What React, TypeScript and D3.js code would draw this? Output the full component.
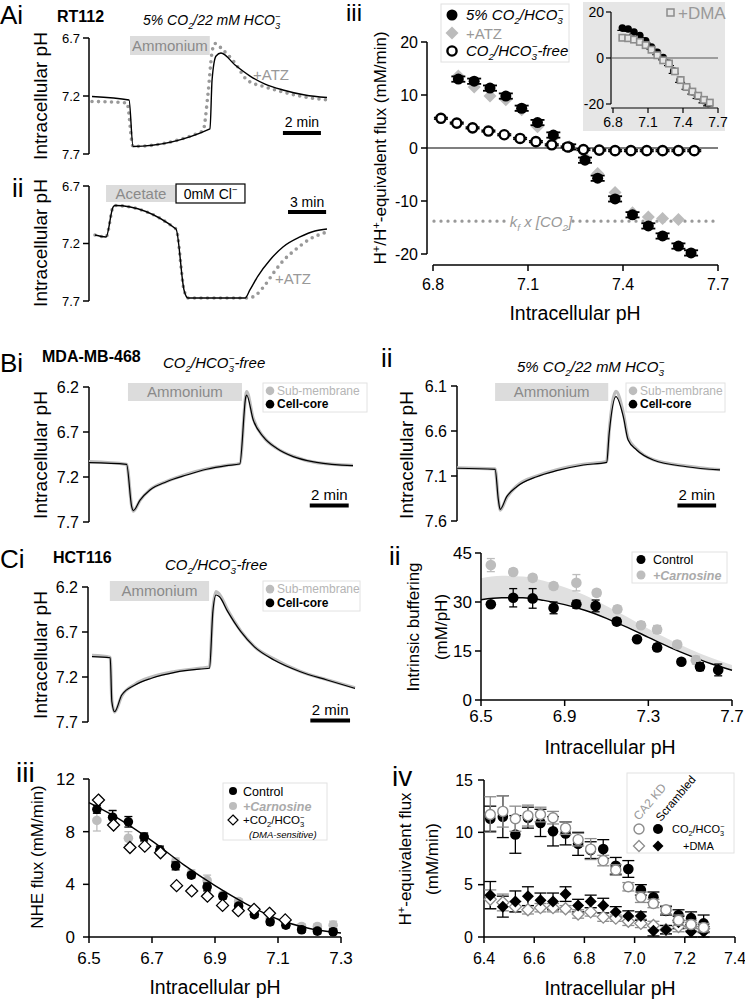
import React from 'react';
import * as d3 from 'd3';

const FONT = '"Liberation Sans", Arial, Helvetica, sans-serif';
const LIGHT = '#bdbdbd';
const MID = '#999999';
const BAR = '#dcdcdc';

// ---------- Ai : RT112, ammonium prepulse (time in min, pHi) ----------
const aiNH4 = [2.0, 6.2];
const aiTime = [0, 1.95, 2.16, 6.21, 6.32, 6.53, 6.79, 7.53, 8.32, 9.11, 10.05, 11.21, 12.37];
const aiCtrl = [7.204, 7.234, 7.635, 7.484, 7.062, 6.855, 6.829, 6.933, 7.028, 7.097, 7.148, 7.191, 7.213];
const aiAtzTime = [0, 1.84, 2.16, 5.84, 6.1, 6.32, 6.47, 6.89, 7.53, 8.16, 9.11, 10.05, 11.21, 12.37];
const aiAtz = [7.247, 7.26, 7.635, 7.502, 7.191, 6.821, 6.747, 6.803, 6.916, 7.062, 7.122, 7.166, 7.209, 7.234];

// ---------- Aii : acetate / 0 Cl- ----------
const aiiAcetate = [0.87, 6.38];
const aiiZeroCl = [6.38, 11.81];
const aiiTime = [0, 0.87, 1.42, 1.57, 6.38, 7.01, 7.32, 11.81, 12.2, 12.83, 13.78, 14.8, 16.14, 17.32, 18.27];
const aiiCtrl = [7.126, 7.143, 6.883, 6.87, 7.074, 7.604, 7.674, 7.674, 7.604, 7.483, 7.343, 7.23, 7.143, 7.091, 7.074];
const aiiAtzTime = [0, 0.87, 1.42, 1.57, 6.38, 7.01, 7.32, 12.05, 12.68, 13.39, 14.17, 14.8, 15.75, 16.93, 18.27];
const aiiAtz = [7.126, 7.143, 6.883, 6.87, 7.074, 7.604, 7.674, 7.674, 7.648, 7.561, 7.439, 7.352, 7.257, 7.161, 7.1];

// ---------- Aiii : flux vs pHi ----------
const aiiiPh = [6.88, 6.93, 6.98, 7.03, 7.08, 7.13, 7.18, 7.23, 7.28, 7.32, 7.375, 7.43, 7.48, 7.525, 7.575, 7.615];
const aiiiCo2 = [13.0, 12.6, 11.3, 9.8, 7.5, 4.8, 2.45, 0.2, -2.3, -5.7, -9.6, -12.6, -14.7, -16.6, -18.5, -19.8];
const aiiiAtzPh = [6.88, 6.93, 6.98, 7.03, 7.08, 7.13, 7.18, 7.23, 7.28, 7.32, 7.375, 7.43, 7.48, 7.525, 7.575];
const aiiiAtz = [13.6, 11.5, 9.8, 9.1, 7.2, 4.0, 2.0, 0.3, -1.8, -4.8, -8.4, -12.2, -13.0, -13.3, -13.5];
const aiiiFreePh = [6.825, 6.875, 6.925, 6.975, 7.025, 7.075, 7.125, 7.175, 7.225, 7.275, 7.325, 7.375, 7.425, 7.475, 7.525, 7.575, 7.625];
const aiiiFree = [5.6, 4.7, 3.8, 3.2, 2.5, 1.8, 1.2, 0.6, 0.2, -0.3, -0.4, -0.5, -0.5, -0.5, -0.5, -0.5, -0.5];
const kfCo2 = -13.8;
const insetDmaPh = [6.88, 6.93, 6.98, 7.03, 7.08, 7.13, 7.18, 7.23, 7.28, 7.33, 7.38, 7.43, 7.48, 7.53, 7.58, 7.63];
const insetDma = [8.8, 8.6, 8.0, 7.0, 5.6, 3.6, 1.2, -1.0, -2.4, -5.8, -9.6, -12.6, -14.6, -16.4, -18.2, -19.4];

// ---------- Bi / Bii / Ci : sub-membrane vs cell-core traces ----------
const biNH4 = [2.0, 7.85];
const biTime = [0, 1.93, 2.19, 2.27, 2.62, 3.13, 3.98, 5.01, 6.04, 7.06, 7.74, 8.05, 8.09, 8.43, 8.94, 9.63, 10.48, 11.68, 13.55];
const biCore = [7.041, 7.059, 7.53, 7.574, 7.456, 7.344, 7.252, 7.178, 7.114, 7.074, 7.056, 6.308, 6.289, 6.567, 6.752, 6.881, 6.974, 7.037, 7.074];
const biSub = [7.03, 7.06, 7.52, 7.58, 7.46, 7.34, 7.25, 7.17, 7.11, 7.07, 7.05, 6.29, 6.25, 6.55, 6.75, 6.88, 6.97, 7.04, 7.07];

const biiNH4 = [1.97, 7.82];
const biiTime = [0, 1.97, 2.14, 2.23, 2.57, 3.09, 4.12, 5.15, 6.53, 7.74, 7.87, 8.22, 8.6, 8.85, 9.29, 10.15, 11.88, 13.6];
const biiCore = [7.014, 7.026, 7.367, 7.47, 7.33, 7.219, 7.108, 7.041, 6.978, 6.948, 6.626, 6.219, 6.441, 6.7, 6.811, 6.922, 6.997, 7.033];
const biiSub = [7.01, 7.02, 7.36, 7.48, 7.34, 7.21, 7.1, 7.03, 6.97, 6.94, 6.6, 6.16, 6.4, 6.68, 6.8, 6.92, 6.99, 7.03];

const ciNH4 = [1.0, 6.0];
const ciTime = [0.1, 1.02, 1.1, 1.24, 1.6, 2.27, 3.1, 4.27, 5.6, 6.02, 6.19, 6.35, 6.52, 6.94, 7.6, 8.27, 9.27, 10.6, 11.94, 13.35];
const ciCore = [6.974, 6.986, 7.474, 7.586, 7.4, 7.289, 7.214, 7.148, 7.111, 7.103, 6.474, 6.289, 6.308, 6.474, 6.697, 6.863, 7.011, 7.141, 7.233, 7.326];
const ciSub = [6.96, 6.98, 7.46, 7.59, 7.41, 7.28, 7.2, 7.14, 7.1, 7.09, 6.45, 6.25, 6.28, 6.46, 6.69, 6.86, 7.0, 7.14, 7.23, 7.32];

// ---------- Cii : intrinsic buffering ----------
const ciiCtrlPh = [6.547, 6.654, 6.747, 6.847, 6.956, 7.048, 7.149, 7.246, 7.342, 7.458, 7.547, 7.634];
const ciiCtrl = [29.3, 31.3, 31.1, 28.2, 29.3, 28.8, 24.0, 18.6, 16.1, 11.7, 10.2, 9.2];
const ciiCtrlErr = [0.8, 2.8, 3.0, 1.8, 1.2, 1.8, 1.0, 0.8, 1.0, 0.8, 1.2, 1.8];
const ciiCarnPh = [6.547, 6.654, 6.747, 6.847, 6.956, 7.053, 7.152, 7.265, 7.342, 7.438, 7.527];
const ciiCarn = [41.3, 39.2, 37.4, 34.9, 35.9, 32.8, 27.8, 22.9, 21.6, 17.0, 12.2];
const ciiCarnErr = [2.0, 1.0, 1.0, 1.0, 2.5, 1.0, 1.0, 1.0, 1.2, 1.0, 1.2];
const ciiFitPh = [6.5, 6.6, 6.7, 6.8, 6.9, 7.0, 7.1, 7.2, 7.3, 7.4, 7.5, 7.6, 7.7];
const ciiFitCtrl = [30.7, 31.3, 31.3, 30.5, 29.2, 27.4, 25.0, 22.2, 19.2, 16.2, 13.5, 11.1, 9.1];
const ciiFitCarn = [37.3, 38.0, 37.8, 36.5, 34.5, 32.0, 28.8, 25.4, 21.8, 18.5, 15.5, 12.9, 10.7];

// ---------- Ciii : NHE flux ----------
const ciiiPh = [6.525, 6.575, 6.625, 6.675, 6.725, 6.775, 6.825, 6.875, 6.925, 6.975, 7.025, 7.075, 7.125, 7.175, 7.225, 7.275];
const ciiiCtrl = [9.7, 9.1, 8.75, 7.6, 6.6, 5.4, 4.7, 3.8, 3.1, 2.35, 1.7, 1.15, 0.9, 0.55, 0.45, 0.4];
const ciiiCtrlErr = [0.3, 0.5, 0.4, 0.3, 0.3, 0.3, 0.2, 0.3, 0.2, 0.2, 0.2, 0.2, 0.2, 0.2, 0.2, 0.2];
const ciiiCarn = [8.85, 9.05, 7.5, 7.55, 6.6, 5.7, 4.8, 4.3, 3.2, 2.7, 1.7, 1.4, 1.0, 0.8, 0.8, 0.9];
const ciiiCarnErr = [0.8, 0.6, 0.5, 0.3, 0.3, 0.3, 0.3, 0.4, 0.2, 0.2, 0.2, 0.2, 0.2, 0.2, 0.2, 0.3];
const ciiiDmaPh = [6.53, 6.578, 6.63, 6.677, 6.727, 6.778, 6.826, 6.876, 6.924, 6.974, 7.024, 7.073, 7.123];
const ciiiDma = [10.4, 8.5, 6.8, 6.9, 6.4, 3.9, 3.5, 3.1, 2.4, 2.0, 2.1, 1.8, 1.3];
const ciiiFitPh = [6.5, 6.6, 6.7, 6.8, 6.9, 7.0, 7.1, 7.2, 7.3];
const ciiiFit = [10.2, 8.9, 7.3, 5.5, 3.9, 2.5, 1.35, 0.65, 0.3];

// ---------- Civ : CA2 knockdown ----------
const civPh = [6.425, 6.475, 6.525, 6.575, 6.625, 6.675, 6.725, 6.775, 6.825, 6.875, 6.925, 6.975, 7.025, 7.075, 7.125, 7.175, 7.225, 7.275];
const civScrCo2 = [11.3, 11.5, 9.8, 11.4, 10.9, 10.1, 9.9, 8.9, 8.3, 8.4, 6.8, 6.5, 4.5, 3.8, 2.5, 2.1, 1.8, 1.3];
const civScrCo2Err = [1.2, 2.0, 1.8, 1.0, 1.3, 1.4, 1.1, 1.1, 0.8, 0.9, 0.8, 0.8, 0.5, 0.5, 0.4, 0.5, 0.6, 0.8];
const civKdCo2 = [11.7, 12.0, 11.3, 11.6, 11.7, 11.4, 10.4, 9.3, 8.4, 7.3, 6.4, 4.8, 3.8, 3.2, 2.6, 1.6, 1.2, 0.9];
const civKdCo2Err = [1.7, 1.5, 1.2, 1.0, 0.7, 0.6, 0.6, 0.6, 1.0, 0.5, 0.5, 0.4, 0.5, 0.4, 0.4, 0.5, 0.4, 0.4];
const civScrDma = [4.0, 2.9, 3.4, 3.9, 3.5, 3.4, 4.1, 3.0, 3.4, 3.0, 2.4, 2.0, 2.0, 0.6, 0.7, 1.4, 0.5, 0.5];
const civScrDmaErr = [1.3, 1.0, 1.0, 0.9, 0.7, 0.8, 0.7, 0.6, 0.6, 0.7, 0.5, 0.5, 0.4, 0.5, 0.4, 0.6, 0.5, 0.5];
const civKdDma = [3.6, 3.3, 2.9, 2.6, 2.8, 2.8, 2.7, 2.2, 2.4, 1.9, 1.8, 1.5, 1.3, 1.1, 0.7, 1.0, 1.0, 0.8];
const civKdDmaErr = [0.9, 0.8, 0.5, 0.4, 0.4, 0.4, 0.3, 0.4, 0.4, 0.4, 0.3, 0.4, 0.4, 0.4, 0.4, 0.5, 0.4, 0.4];

type Lin = d3.ScaleLinear<number, number>;
type Seg = { t: string; s?: 'sub' | 'sup'; dx?: number };

const co2hco3: Seg[] = [{ t: 'CO' }, { t: '2', s: 'sub' }, { t: '/HCO' }, { t: '3', s: 'sub' }, { t: '−', s: 'sup', dx: -0.36 }];
const co2hco3_22: Seg[] = [{ t: '5% CO' }, { t: '2', s: 'sub' }, { t: '/22 mM HCO' }, { t: '3', s: 'sub' }, { t: '−', s: 'sup', dx: -0.36 }];
const co2free: Seg[] = [...co2hco3, { t: '-free' }];

function Rich({ segs, fs }: { segs: Seg[]; fs: number }) {
  let cur = 0;
  return (
    <>
      {segs.map((g, i) => {
        const off = g.s === 'sub' ? fs * 0.28 : g.s === 'sup' ? -fs * 0.38 : 0;
        const dy = off - cur;
        cur = off;
        return (
          <tspan key={i} dy={dy || undefined} dx={g.dx ? g.dx * fs : undefined} fontSize={g.s ? fs * 0.66 : undefined}>
            {g.t}
          </tspan>
        );
      })}
    </>
  );
}

const trace = (t: number[], v: number[], x: Lin, y: Lin) =>
  d3.line<number>().x((_, i) => x(t[i])).y((d) => y(d)).curve(d3.curveMonotoneX)(v) ?? '';

const diamond = (cx: number, cy: number, s: number) => `M${cx},${cy - s}L${cx + s},${cy}L${cx},${cy + s}L${cx - s},${cy}Z`;

function YAxis({ x, y, ticks, fs, tick = 6, gap = 3, fmt = (v: number) => String(v), sw = 1.5, from, to }: any) {
  const ys = ticks.map((t: number) => y(t));
  return (
    <g>
      <line x1={x} x2={x} y1={from ?? Math.min(...ys)} y2={to ?? Math.max(...ys)} stroke="#000" strokeWidth={sw} />
      {ticks.map((t: number, i: number) => (
        <g key={t}>
          <line x1={x - tick} x2={x} y1={ys[i]} y2={ys[i]} stroke="#000" strokeWidth={sw} />
          <text x={x - tick - gap} y={ys[i]} dy="0.36em" textAnchor="end" fontSize={fs}>
            {fmt(t)}
          </text>
        </g>
      ))}
    </g>
  );
}

function XAxis({ y, x, ticks, fs, tick = 6, labelY, fmt = (v: number) => v.toFixed(1), sw = 1.5, from, to }: any) {
  const xs = ticks.map((t: number) => x(t));
  return (
    <g>
      <line y1={y} y2={y} x1={from ?? Math.min(...xs)} x2={to ?? Math.max(...xs)} stroke="#000" strokeWidth={sw} />
      {ticks.map((t: number, i: number) => (
        <g key={t}>
          <line y1={y} y2={y + tick} x1={xs[i]} x2={xs[i]} stroke="#000" strokeWidth={sw} />
          <text x={xs[i]} y={labelY} textAnchor="middle" fontSize={fs}>
            {fmt(t)}
          </text>
        </g>
      ))}
    </g>
  );
}

function ErrBars({ xs, vs, err, x, y, cap, color = '#000', sw = 1.3 }: any) {
  return (
    <g stroke={color} strokeWidth={sw}>
      {xs.map((p: number, i: number) => {
        const cx = x(p);
        const a = y(vs[i] + err[i]);
        const b = y(vs[i] - err[i]);
        return (
          <g key={i}>
            <line x1={cx} x2={cx} y1={a} y2={b} />
            <line x1={cx - cap} x2={cx + cap} y1={a} y2={a} />
            <line x1={cx - cap} x2={cx + cap} y1={b} y2={b} />
          </g>
        );
      })}
    </g>
  );
}

function ScaleBar({ x, t0, min, y, label, textY, fs = 14 }: any) {
  const a = x(t0);
  const b = x(t0 + min);
  return (
    <g>
      <line x1={a} x2={b} y1={y} y2={y} stroke="#000" strokeWidth={4} />
      <text x={(a + b) / 2} y={textY} textAnchor="middle" fontSize={fs}>
        {label}
      </text>
    </g>
  );
}

function SolutionBar({ x, span, y, h, label, fs = 15 }: any) {
  const a = x(span[0]);
  const b = x(span[1]);
  return (
    <g>
      <rect x={a} y={y} width={b - a} height={h} fill={BAR} />
      <text x={(a + b) / 2} y={y + h / 2} dy="0.36em" textAnchor="middle" fontSize={fs} fill="#8a8a8a">
        {label}
      </text>
    </g>
  );
}

const pHfmt = (v: number) => v.toFixed(1);

function PanelAi() {
  const x = d3.scaleLinear().domain([0, 12.37]).range([92, 327]);
  const y = d3.scaleLinear().domain([6.7, 7.7]).range([38, 154]);
  return (
    <g>
      <text x={0} y={24} fontSize={26}>Ai</text>
      <text x={57} y={22} fontSize={16} fontWeight="bold">RT112</text>
      <text x={143} y={25} fontSize={14} fontStyle="italic">
        <Rich segs={co2hco3_22} fs={14} />
      </text>
      <SolutionBar x={x} span={aiNH4} y={36} h={19} label="Ammonium" />
      <YAxis x={89} y={y} ticks={[6.7, 7.2, 7.7]} fs={13} fmt={pHfmt} />
      <text transform="translate(47,96) rotate(-90)" textAnchor="middle" fontSize={19}>Intracellular pH</text>
      <path d={trace(aiAtzTime, aiAtz, x, y)} fill="none" stroke={MID} strokeWidth={3.6} strokeDasharray="0 6.5" strokeLinecap="round" />
      <path d={trace(aiTime, aiCtrl, x, y)} fill="none" stroke="#000" strokeWidth={1.4} />
      <text x={253} y={80} fontSize={15} fill={MID}>+ATZ</text>
      <ScaleBar x={x} t0={10.05} min={2} y={133} label="2 min" textY={127} />
    </g>
  );
}

function PanelAii() {
  const x = d3.scaleLinear().domain([0, 18.27]).range([95, 327]);
  const y = d3.scaleLinear().domain([6.7, 7.7]).range([186, 301]);
  const c0 = x(aiiZeroCl[0]);
  const c1 = x(aiiZeroCl[1]);
  return (
    <g>
      <text x={12} y={197} fontSize={26}>ii</text>
      <SolutionBar x={x} span={aiiAcetate} y={185} h={17} label="Acetate" />
      <rect x={c0} y={184} width={c1 - c0} height={19} fill="#fff" stroke="#000" strokeWidth={1.2} />
      <text x={(c0 + c1) / 2} y={193.5} dy="0.36em" textAnchor="middle" fontSize={14}>
        <Rich segs={[{ t: '0mM Cl' }, { t: '−', s: 'sup' }]} fs={14} />
      </text>
      <YAxis x={89} y={y} ticks={[6.7, 7.2, 7.7]} fs={13} fmt={pHfmt} />
      <text transform="translate(47,243) rotate(-90)" textAnchor="middle" fontSize={19}>Intracellular pH</text>
      <path d={trace(aiiAtzTime, aiiAtz, x, y)} fill="none" stroke={MID} strokeWidth={3.6} strokeDasharray="0 6.5" strokeLinecap="round" />
      <path d={trace(aiiTime, aiiCtrl, x, y)} fill="none" stroke="#000" strokeWidth={1.4} />
      <text x={275} y={284} fontSize={15} fill={MID}>+ATZ</text>
      <ScaleBar x={x} t0={15.2} min={3} y={212} label="3 min" textY={207} />
    </g>
  );
}

function PanelAiii() {
  const x = d3.scaleLinear().domain([6.8, 7.7]).range([433, 718]);
  const y = d3.scaleLinear().domain([-20, 20]).range([254, 42]);
  const ix = d3.scaleLinear().domain([6.8, 7.7]).range([613, 718]);
  const iy = d3.scaleLinear().domain([-20, 20]).range([104, 12]);
  const co2Err = aiiiCo2.map(() => 0.5);
  const freeErr = aiiiFree.map(() => 0.15);
  const kfY = y(kfCo2);
  return (
    <g>
      <text x={346} y={21} fontSize={24}>iii</text>
      {/* legend */}
      <rect x={441} y={4} width={128} height={58} fill="#fff" stroke="#e0e0e0" strokeWidth={1} />
      <circle cx={452} cy={15} r={5.5} fill="#000" />
      <text x={466} y={20} fontSize={15} fontStyle="italic"><Rich segs={[{ t: '5% ' }, ...co2hco3]} fs={15} /></text>
      <path d={diamond(452, 33, 6.5)} fill="#bcbcbc" />
      <text x={466} y={38.5} fontSize={15} fill={MID}>+ATZ</text>
      <circle cx={452} cy={51} r={4.6} fill="#fff" stroke="#000" strokeWidth={2.4} />
      <text x={466} y={56} fontSize={15} fontStyle="italic"><Rich segs={co2free} fs={15} /></text>

      <YAxis x={427} y={y} ticks={[-20, -10, 0, 10, 20]} fs={16} gap={3} />
      <XAxis y={265} x={x} ticks={[6.8, 7.1, 7.4, 7.7]} fs={16} labelY={290} />
      <line x1={427} x2={718} y1={y(0)} y2={y(0)} stroke="#000" strokeWidth={1.2} />
      <line x1={434} x2={509} y1={kfY} y2={kfY} stroke={MID} strokeWidth={3.3} strokeDasharray="0 7" strokeLinecap="round" />
      <line x1={573} x2={714} y1={kfY} y2={kfY} stroke={MID} strokeWidth={3.3} strokeDasharray="0 7" strokeLinecap="round" />
      <text x={541} y={kfY + 6} textAnchor="middle" fontSize={15} fontStyle="italic" fill={MID}>
        <Rich segs={[{ t: 'k' }, { t: 'f', s: 'sub' }, { t: ' x [CO' }, { t: '2', s: 'sub' }, { t: ']' }]} fs={15} />
      </text>
      <text transform="translate(386,148) rotate(-90)" textAnchor="middle" fontSize={17}>
        <Rich segs={[{ t: 'H' }, { t: '+', s: 'sup' }, { t: '/H' }, { t: '+', s: 'sup' }, { t: '-equivalent flux (mM/min)' }]} fs={17} />
      </text>
      <text x={575} y={320} textAnchor="middle" fontSize={19.5}>Intracellular pH</text>

      {aiiiAtzPh.map((p, i) => (
        <path key={'a' + i} d={diamond(x(p), y(aiiiAtz[i]), 6.5)} fill="#bcbcbc" />
      ))}
      <ErrBars xs={aiiiPh} vs={aiiiCo2} err={co2Err} x={x} y={y} cap={7} sw={1.8} />
      {aiiiPh.map((p, i) => (
        <circle key={'c' + i} cx={x(p)} cy={y(aiiiCo2[i])} r={5.5} fill="#000" />
      ))}
      <ErrBars xs={aiiiFreePh} vs={aiiiFree} err={freeErr} x={x} y={y} cap={7} sw={1.6} />
      {aiiiFreePh.map((p, i) => (
        <circle key={'f' + i} cx={x(p)} cy={y(aiiiFree[i])} r={4.6} fill="#fff" stroke="#000" strokeWidth={2.4} />
      ))}

      {/* inset */}
      <rect x={583} y={2} width={142} height={129} fill="#e6e6e6" />
      <YAxis x={611} y={iy} ticks={[-20, 0, 20]} fs={14} tick={5} gap={2} sw={1.2} />
      <XAxis y={108} x={ix} ticks={[6.8, 7.1, 7.4, 7.7]} fs={14} tick={5} labelY={127} sw={1.2} from={611} />
      <line x1={611} x2={718} y1={iy(0)} y2={iy(0)} stroke="#555" strokeWidth={1.2} />
      {aiiiPh.map((p, i) => (
        <g key={'ic' + i}>
          <line x1={ix(p) - 5} x2={ix(p) + 5} y1={iy(aiiiCo2[i] - 1)} y2={iy(aiiiCo2[i] - 1)} stroke="#000" strokeWidth={1.2} />
          <circle cx={ix(p)} cy={iy(aiiiCo2[i])} r={3.8} fill="#000" />
        </g>
      ))}
      {insetDmaPh.map((p, i) => (
        <rect key={'is' + i} x={ix(p) - 3.2} y={iy(insetDma[i]) - 3.2} width={6.4} height={6.4} fill="#e6e6e6" stroke="#8c8c8c" strokeWidth={1.6} />
      ))}
      <rect x={667} y={9} width={7} height={7} fill="none" stroke="#8c8c8c" strokeWidth={1.5} />
      <text x={678} y={19} fontSize={17} fill={MID}>+DMA</text>
    </g>
  );
}

function TwoTrace({ axX, yDomain, yRange, xRange, time, core, sub, nh4, bar, legend, tBar, barY, ticks }: any) {
  const x = d3.scaleLinear().domain([0, time[time.length - 1]]).range(xRange);
  const y = d3.scaleLinear().domain(yDomain).range(yRange);
  const [lx, ly, lw, lh] = legend;
  return (
    <g>
      <SolutionBar x={x} span={nh4} y={bar[0]} h={bar[1]} label="Ammonium" />
      <rect x={lx} y={ly} width={lw} height={lh} fill="#fff" stroke="#e2e2e2" />
      <circle cx={lx + 7} cy={ly + lh * 0.27} r={4.3} fill={LIGHT} />
      <text x={lx + 14} y={ly + lh * 0.27 + 4} fontSize={12} fill="#b5b5b5">Sub-membrane</text>
      <circle cx={lx + 7} cy={ly + lh * 0.73} r={4.3} fill="#000" />
      <text x={lx + 14} y={ly + lh * 0.73 + 4} fontSize={12} fontWeight="bold">Cell-core</text>
      <YAxis x={axX} y={y} ticks={ticks} fs={16} fmt={pHfmt} gap={4} />
      <path d={trace(time, sub, x, y)} fill="none" stroke={LIGHT} strokeWidth={3.2} strokeLinejoin="round" />
      <path d={trace(time, core, x, y)} fill="none" stroke="#000" strokeWidth={1.2} />
      <ScaleBar x={x} t0={tBar} min={2} y={barY} label="2 min" textY={barY - 6} fs={15} />
    </g>
  );
}

function PanelB() {
  return (
    <g>
      <text x={0} y={372} fontSize={26}>Bi</text>
      <text x={42} y={362} fontSize={16} fontWeight="bold">MDA-MB-468</text>
      <text x={163} y={368} fontSize={15} fontStyle="italic"><Rich segs={co2free} fs={15} /></text>
      <text transform="translate(47,455) rotate(-90)" textAnchor="middle" fontSize={19}>Intracellular pH</text>
      <TwoTrace axX={89} yDomain={[6.2, 7.7]} yRange={[387, 522]} xRange={[89, 353]} time={biTime} core={biCore} sub={biSub}
        nh4={biNH4} bar={[383, 18]} legend={[263, 383, 104, 29]} tBar={11.33} barY={505.5} ticks={[6.2, 6.7, 7.2, 7.7]} />

      <text x={381} y={367} fontSize={26}>ii</text>
      <text x={517} y={372} fontSize={15} fontStyle="italic"><Rich segs={co2hco3_22} fs={15} /></text>
      <text transform="translate(413,455) rotate(-90)" textAnchor="middle" fontSize={19}>Intracellular pH</text>
      <TwoTrace axX={457} yDomain={[6.1, 7.6]} yRange={[386, 521]} xRange={[457, 720]} time={biiTime} core={biiCore} sub={biiSub}
        nh4={biiNH4} bar={[383, 18]} legend={[626, 383, 99, 29]} tBar={11.4} barY={505.5} ticks={[6.1, 6.6, 7.1, 7.6]} />
    </g>
  );
}

function PanelCi() {
  return (
    <g>
      <text x={0} y={568} fontSize={26}>Ci</text>
      <text x={53} y={563} fontSize={16} fontWeight="bold">HCT116</text>
      <text x={165} y={570} fontSize={15} fontStyle="italic"><Rich segs={co2free} fs={15} /></text>
      <text transform="translate(47,655) rotate(-90)" textAnchor="middle" fontSize={19}>Intracellular pH</text>
      <TwoTrace axX={88} yDomain={[6.2, 7.7]} yRange={[587, 722]} xRange={[90, 355]} time={ciTime} core={ciCore} sub={ciSub}
        nh4={ciNH4} bar={[581, 20]} legend={[263, 581, 97, 30]} tBar={11.1} barY={720.5} ticks={[6.2, 6.7, 7.2, 7.7]} />
    </g>
  );
}

function PanelCii() {
  const x = d3.scaleLinear().domain([6.5, 7.7]).range([481, 732]);
  const y = d3.scaleLinear().domain([0, 45]).range([700, 553]);
  const band = d3.area<number>().x((p) => x(p)).y0((_, i) => y(ciiFitCtrl[i])).y1((_, i) => y(ciiFitCarn[i])).curve(d3.curveMonotoneX)(ciiFitPh) ?? '';
  const fit = d3.line<number>().x((p) => x(p)).y((_, i) => y(ciiFitCtrl[i])).curve(d3.curveMonotoneX)(ciiFitPh) ?? '';
  return (
    <g>
      <text x={389} y={565} fontSize={26}>ii</text>
      <path d={band} fill="#e0e0e0" />
      <path d={fit} fill="none" stroke="#000" strokeWidth={1.4} />
      <YAxis x={481} y={y} ticks={[0, 15, 30, 45]} fs={17} gap={3} />
      <XAxis y={700} x={x} ticks={[6.5, 6.9, 7.3, 7.7]} fs={17} labelY={722} />
      <text transform="translate(419,627) rotate(-90)" textAnchor="middle" fontSize={17}>Intrinsic buffering</text>
      <text transform="translate(447,627) rotate(-90)" textAnchor="middle" fontSize={17}>(mM/pH)</text>
      <text x={610} y={754} textAnchor="middle" fontSize={19.5}>Intracellular pH</text>
      <ErrBars xs={ciiCarnPh} vs={ciiCarn} err={ciiCarnErr} x={x} y={y} cap={4} color={LIGHT} />
      {ciiCarnPh.map((p, i) => <circle key={'g' + i} cx={x(p)} cy={y(ciiCarn[i])} r={5.3} fill={LIGHT} />)}
      <ErrBars xs={ciiCtrlPh} vs={ciiCtrl} err={ciiCtrlErr} x={x} y={y} cap={4} />
      {ciiCtrlPh.map((p, i) => <circle key={'b' + i} cx={x(p)} cy={y(ciiCtrl[i])} r={5.3} fill="#000" />)}
      <rect x={632} y={552} width={95} height={31} fill="#fff" stroke="#e2e2e2" />
      <circle cx={641} cy={559.5} r={4.5} fill="#000" />
      <text x={653} y={564} fontSize={12.5}>Control</text>
      <circle cx={641} cy={575} r={4.5} fill={LIGHT} />
      <text x={653} y={579.5} fontSize={12.5} fontStyle="italic" fontWeight="bold" fill="#aaa">+Carnosine</text>
    </g>
  );
}

function PanelCiii() {
  const x = d3.scaleLinear().domain([6.5, 7.3]).range([89, 341]);
  const y = d3.scaleLinear().domain([0, 12]).range([937, 779]);
  const fit = d3.line<number>().x((p) => x(p)).y((_, i) => y(ciiiFit[i])).curve(d3.curveMonotoneX)(ciiiFitPh) ?? '';
  return (
    <g>
      <text x={16} y={782} fontSize={28}>iii</text>
      <YAxis x={89} y={y} ticks={[0, 4, 8, 12]} fs={17} gap={8} />
      <XAxis y={937} x={x} ticks={[6.5, 6.7, 6.9, 7.1, 7.3]} fs={17} labelY={964} />
      <text transform="translate(43,857) rotate(-90)" textAnchor="middle" fontSize={17}>NHE flux (mM/min)</text>
      <text x={215} y={994} textAnchor="middle" fontSize={19.5}>Intracellular pH</text>
      <ErrBars xs={ciiiPh} vs={ciiiCarn} err={ciiiCarnErr} x={x} y={y} cap={4} color={LIGHT} />
      {ciiiPh.map((p, i) => <circle key={'g' + i} cx={x(p)} cy={y(ciiiCarn[i])} r={4.8} fill={LIGHT} />)}
      <ErrBars xs={ciiiPh} vs={ciiiCtrl} err={ciiiCtrlErr} x={x} y={y} cap={4} />
      {ciiiPh.map((p, i) => <circle key={'b' + i} cx={x(p)} cy={y(ciiiCtrl[i])} r={4.8} fill="#000" />)}
      <path d={fit} fill="none" stroke="#000" strokeWidth={1.4} />
      {ciiiDmaPh.map((p, i) => (
        <path key={'d' + i} d={diamond(x(p), y(ciiiDma[i]), 6)} fill="#fff" stroke="#000" strokeWidth={1.3} />
      ))}
      <rect x={223} y={783} width={104} height={57} fill="#fff" stroke="#e2e2e2" />
      <circle cx={233} cy={791} r={4} fill="#000" />
      <text x={243} y={795.5} fontSize={12.5}>Control</text>
      <circle cx={233} cy={806} r={4} fill={LIGHT} />
      <text x={243} y={810.5} fontSize={12.5} fontStyle="italic" fontWeight="bold" fill="#aaa">+Carnosine</text>
      <path d={diamond(233, 820, 5)} fill="#fff" stroke="#000" strokeWidth={1.2} />
      <text x={243} y={824} fontSize={11.5}><Rich segs={[{ t: '+' }, ...co2hco3]} fs={11.5} /></text>
      <text x={249} y={838} fontSize={9.5} fontStyle="italic">(DMA-sensitive)</text>
    </g>
  );
}

function PanelCiv() {
  const x = d3.scaleLinear().domain([6.4, 7.4]).range([484, 735]);
  const y = d3.scaleLinear().domain([0, 15]).range([937, 780]);
  const KD = '#8c8c8c';
  return (
    <g>
      <text x={392} y={786} fontSize={28}>iv</text>
      <YAxis x={484} y={y} ticks={[0, 5, 10, 15]} fs={16} gap={5} />
      <XAxis y={937} x={x} ticks={[6.4, 6.6, 6.8, 7.0, 7.2, 7.4]} fs={16} labelY={964} />
      <text transform="translate(411,859) rotate(-90)" textAnchor="middle" fontSize={17}>
        <Rich segs={[{ t: 'H' }, { t: '+', s: 'sup' }, { t: '-equivalent flux' }]} fs={17} />
      </text>
      <text transform="translate(438,859) rotate(-90)" textAnchor="middle" fontSize={17}>(mM/min)</text>
      <text x={610} y={995} textAnchor="middle" fontSize={19.5}>Intracellular pH</text>

      <ErrBars xs={civPh} vs={civKdDma} err={civKdDmaErr} x={x} y={y} cap={6} color={KD} />
      <ErrBars xs={civPh} vs={civScrDma} err={civScrDmaErr} x={x} y={y} cap={6} />
      {civPh.map((p, i) => <path key={'kd' + i} d={diamond(x(p), y(civKdDma[i]), 6)} fill="#fff" stroke={KD} strokeWidth={1.3} />)}
      {civPh.map((p, i) => <path key={'sd' + i} d={diamond(x(p), y(civScrDma[i]), 6)} fill="#000" />)}
      <ErrBars xs={civPh} vs={civScrCo2} err={civScrCo2Err} x={x} y={y} cap={6} />
      {civPh.map((p, i) => <circle key={'sc' + i} cx={x(p)} cy={y(civScrCo2[i])} r={5.3} fill="#000" />)}
      <ErrBars xs={civPh} vs={civKdCo2} err={civKdCo2Err} x={x} y={y} cap={6} color={KD} />
      {civPh.map((p, i) => <circle key={'kc' + i} cx={x(p)} cy={y(civKdCo2[i])} r={5} fill="#fff" stroke={KD} strokeWidth={1.4} />)}

      <rect x={627} y={773} width={107} height={80} fill="#fff" stroke="#e2e2e2" />
      <text transform="translate(639,821) rotate(-50)" fontSize={12} fill={MID}>CA2 KD</text>
      <text transform="translate(661,822) rotate(-50)" fontSize={11.5}>Scrambled</text>
      <circle cx={639} cy={829} r={5} fill="#fff" stroke={KD} strokeWidth={1.4} />
      <circle cx={658} cy={829} r={5} fill="#000" />
      <text x={672} y={833} fontSize={11}><Rich segs={co2hco3} fs={11} /></text>
      <path d={diamond(639, 846, 5.5)} fill="#fff" stroke={KD} strokeWidth={1.3} />
      <path d={diamond(658, 846, 5.5)} fill="#000" />
      <text x={683} y={850} fontSize={11}>+DMA</text>
    </g>
  );
}

export default function App() {
  return (
    <div style={{ position: 'absolute', left: 0, top: 0 }}>
      <svg width={745} height={999} viewBox="0 0 745 999" fontFamily={FONT} style={{ display: 'block', background: '#fff' }}>
        <PanelAi />
        <PanelAii />
        <PanelAiii />
        <PanelB />
        <PanelCi />
        <PanelCii />
        <PanelCiii />
        <PanelCiv />
      </svg>
    </div>
  );
}
